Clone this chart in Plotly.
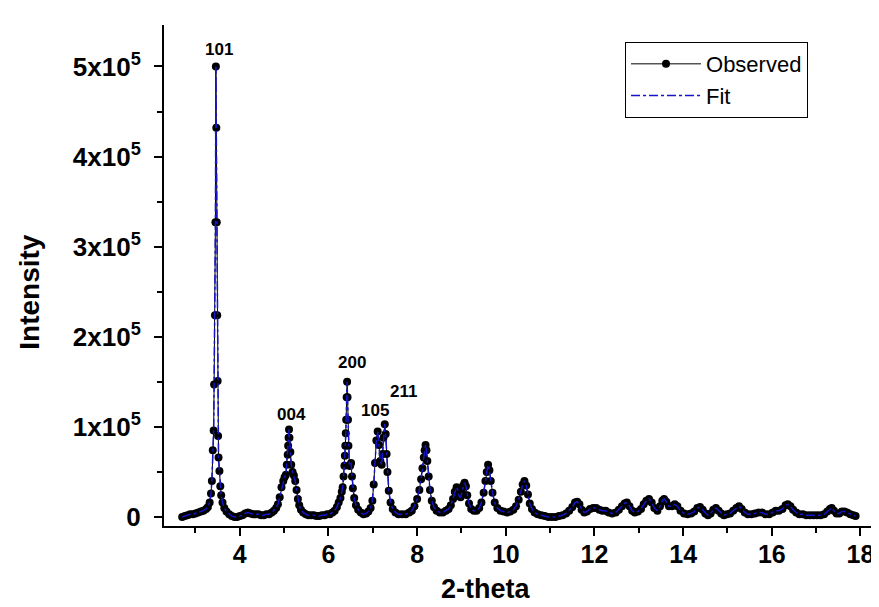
import plotly.graph_objects as go

# ---- data ----
two_theta = [
    2.70, 2.76, 2.82, 2.88, 2.94, 3.00, 3.06, 3.12, 3.18, 3.24, 3.28, 3.32,
    3.35, 3.37, 3.39, 3.41, 3.42, 3.44, 3.45, 3.46, 3.47, 3.48, 3.49, 3.50,
    3.51, 3.52, 3.54, 3.56, 3.58, 3.61, 3.65, 3.70, 3.76, 3.82, 3.88, 3.94,
    4.00, 4.06, 4.12, 4.18, 4.24, 4.30, 4.36, 4.42, 4.48, 4.54, 4.60, 4.66,
    4.72, 4.77, 4.82, 4.86, 4.90, 4.94, 4.98, 5.01, 5.04, 5.06, 5.08, 5.09,
    5.10, 5.11, 5.12, 5.14, 5.16, 5.19, 5.22, 5.25, 5.28, 5.31, 5.34, 5.38,
    5.43, 5.49, 5.55, 5.61, 5.67, 5.73, 5.79, 5.85, 5.91, 5.97, 6.03, 6.09,
    6.14, 6.19, 6.23, 6.27, 6.30, 6.32, 6.34, 6.36, 6.37, 6.38, 6.39, 6.40,
    6.41, 6.42, 6.43, 6.44, 6.45, 6.47, 6.49, 6.51, 6.53, 6.55, 6.58, 6.62,
    6.67, 6.73, 6.79, 6.85, 6.90, 6.95, 6.99, 7.02, 7.05, 7.08, 7.11, 7.14,
    7.17, 7.20, 7.22, 7.24, 7.27, 7.29, 7.31, 7.33, 7.36, 7.40, 7.45, 7.51,
    7.58, 7.66, 7.74, 7.82, 7.88, 7.94, 8.00, 8.05, 8.09, 8.12, 8.15, 8.17,
    8.19, 8.21, 8.23, 8.26, 8.29, 8.33, 8.38, 8.44, 8.51, 8.58, 8.65, 8.71,
    8.76, 8.81, 8.85, 8.89, 8.92, 8.95, 8.98, 9.01, 9.04, 9.07, 9.10, 9.13,
    9.17, 9.22, 9.28, 9.34, 9.40, 9.45, 9.50, 9.54, 9.57, 9.60, 9.63, 9.66,
    9.70, 9.75, 9.81, 9.88, 9.95, 10.03, 10.10, 10.17, 10.23, 10.29, 10.34, 10.38,
    10.42, 10.46, 10.50, 10.54, 10.59, 10.65, 10.72, 10.80, 10.88, 10.96, 11.04, 11.12,
    11.20, 11.28, 11.36, 11.43, 11.50, 11.56, 11.61, 11.66, 11.71, 11.77, 11.83, 11.90,
    11.97, 12.04, 12.11, 12.18, 12.25, 12.32, 12.40, 12.48, 12.55, 12.62, 12.68, 12.73,
    12.79, 12.85, 12.91, 12.98, 13.05, 13.11, 13.17, 13.23, 13.29, 13.35, 13.42, 13.48,
    13.53, 13.57, 13.62, 13.68, 13.75, 13.81, 13.87, 13.94, 14.02, 14.10, 14.18, 14.25,
    14.32, 14.38, 14.44, 14.50, 14.56, 14.62, 14.68, 14.74, 14.80, 14.86, 14.92, 14.99,
    15.06, 15.13, 15.20, 15.26, 15.32, 15.39, 15.46, 15.54, 15.62, 15.70, 15.78, 15.86,
    15.94, 16.02, 16.09, 16.16, 16.24, 16.31, 16.36, 16.42, 16.48, 16.55, 16.62, 16.70,
    16.78, 16.86, 16.94, 17.02, 17.10, 17.18, 17.25, 17.31, 17.35, 17.40, 17.46, 17.52,
    17.58, 17.64, 17.70, 17.77, 17.84, 17.89,
]

observed = [
    0, 1000, 2000, 3000, 3000, 4000, 5000, 6000, 7000, 9000, 11000, 16000,
    26000, 40000, 74000, 96000, 147000, 224000, 327000, 500000, 432000, 327000, 224000, 151000,
    90000, 66000, 51000, 34000, 24000, 16000, 10000, 6000, 3000, 1000, 0, 0,
    1000, 2000, 4000, 5000, 4000, 3000, 3000, 3000, 2000, 2000, 3000, 3000,
    5000, 7000, 10000, 14000, 22000, 33000, 40000, 44000, 47000, 58000, 69000, 79000,
    88000, 97000, 88000, 72000, 58000, 50000, 46000, 40000, 30000, 20000, 13000, 8000,
    5000, 3000, 2000, 2000, 2000, 1000, 1000, 2000, 2000, 3000, 3000, 5000,
    7000, 11000, 16000, 21000, 28000, 33000, 45000, 57000, 68000, 79000, 93000, 108000,
    133000, 150000, 133000, 108000, 79000, 57000, 57000, 60000, 45000, 32000, 21000, 13000,
    8000, 5000, 3000, 4000, 6000, 10000, 18000, 36000, 60000, 85000, 95000, 80000,
    62000, 58000, 70000, 88000, 103000, 92000, 70000, 50000, 29000, 16000, 9000, 5000,
    3000, 3000, 3000, 5000, 7000, 12000, 20000, 30000, 42000, 54000, 66000, 74000,
    80000, 74000, 62000, 45000, 30000, 18000, 11000, 7000, 5000, 5000, 7000, 9000,
    13000, 20000, 28000, 33000, 30000, 23000, 22000, 28000, 35000, 38000, 34000, 24000,
    15000, 9000, 7000, 7000, 10000, 16000, 27000, 40000, 50000, 58000, 52000, 40000,
    27000, 16000, 10000, 7000, 6000, 5000, 6000, 8000, 12000, 19000, 28000, 36000,
    40000, 35000, 25000, 15000, 9000, 5000, 3000, 2000, 1000, 0, 0, 0,
    1000, 2000, 4000, 7000, 11000, 16000, 17000, 14000, 8000, 5000, 6000, 9000,
    10000, 10000, 8000, 7000, 7000, 5000, 4000, 5000, 8000, 12000, 15000, 16000,
    12000, 7000, 5000, 6000, 9000, 14000, 18000, 20000, 16000, 10000, 7000, 12000,
    18000, 20000, 17000, 12000, 12000, 14000, 12000, 7000, 4000, 3000, 4000, 6000,
    10000, 11000, 8000, 4000, 2000, 4000, 8000, 10000, 7000, 4000, 2000, 3000,
    4000, 7000, 10000, 12000, 9000, 5000, 3000, 3000, 4000, 5000, 5000, 3000,
    3000, 5000, 7000, 7000, 9000, 13000, 14000, 12000, 8000, 5000, 3000, 3000,
    2000, 2000, 2000, 2000, 2000, 3000, 6000, 9000, 10000, 7000, 4000, 4000,
    6000, 6000, 5000, 3000, 2000, 1000,
]

# the fitted profile coincides with the observed one everywhere in the picture
fit = list(observed)

y_tick_vals = [0, 100000, 200000, 300000, 400000, 500000]
y_tick_text = ["0", "1x10<sup>5</sup>", "2x10<sup>5</sup>", "3x10<sup>5</sup>",
               "4x10<sup>5</sup>", "5x10<sup>5</sup>"]
x_tick_vals = [4, 6, 8, 10, 12, 14, 16, 18]

peak_labels = ["101", "004", "200", "105", "211"]
peak_label_x = [3.54, 5.16, 6.52, 7.06, 7.70]
peak_label_y = [519000, 114000, 171000, 118000, 139000]

FONT = "Liberation Sans, Arial, sans-serif"

fig = go.Figure()
fig.add_trace(go.Scatter(
    x=two_theta, y=observed, name="Observed", mode="lines+markers",
    line=dict(color="black", width=1),
    marker=dict(color="black", size=8),
))
fig.add_trace(go.Scatter(
    x=two_theta, y=fit, name="Fit", mode="lines",
    line=dict(color="#1414c8", width=1.5, dash="dashdot"),
))

for t, xv, yv in zip(peak_labels, peak_label_x, peak_label_y):
    fig.add_annotation(x=xv, y=yv, text=t, showarrow=False,
                       font=dict(family=FONT, size=17, color="black", weight="bold"))

# axis titles
fig.add_annotation(xref="paper", yref="paper", x=0.452, y=-0.126,
                   xanchor="center", yanchor="middle", showarrow=False,
                   text="2-theta",
                   font=dict(family=FONT, size=27, color="black", weight="bold"))
fig.add_annotation(xref="paper", yref="paper", x=-0.19, y=0.467,
                   xanchor="center", yanchor="middle", showarrow=False,
                   text="Intensity", textangle=-90,
                   font=dict(family=FONT, size=28, color="black", weight="bold"))

fig.update_layout(
    width=879, height=607,
    margin=dict(l=156, r=11, t=17, b=89),
    paper_bgcolor="white", plot_bgcolor="white",
    font=dict(family=FONT, color="black"),
    showlegend=True,
    legend=dict(
        x=0.6475, y=0.966, xanchor="left", yanchor="top",
        bordercolor="black", borderwidth=1, bgcolor="white",
        font=dict(family=FONT, size=22, color="black"),
        itemwidth=70, tracegroupgap=0,
    ),
)
fig.update_xaxes(
    range=[2.29, 18.35], showgrid=False, zeroline=False,
    showline=True, linecolor="black", linewidth=2,
    tickmode="array", tickvals=x_tick_vals,
    ticks="outside", ticklen=8, tickwidth=2, tickcolor="black",
    minor=dict(dtick=1, tick0=0, ticks="outside", ticklen=5, tickwidth=2, tickcolor="black"),
    tickfont=dict(family=FONT, size=25, color="black", weight="bold"),
    ticklabelstandoff=-3,
)
fig.update_yaxes(
    range=[-10000, 546000], showgrid=False, zeroline=False,
    showline=True, linecolor="black", linewidth=2,
    tickmode="array", tickvals=y_tick_vals, ticktext=y_tick_text,
    ticks="outside", ticklen=8, tickwidth=2, tickcolor="black",
    minor=dict(dtick=50000, tick0=0, ticks="outside", ticklen=5, tickwidth=2, tickcolor="black"),
    tickfont=dict(family=FONT, size=26, color="black", weight="bold"),
    ticklabelstandoff=8,
)

fig.write_html("out.html")
